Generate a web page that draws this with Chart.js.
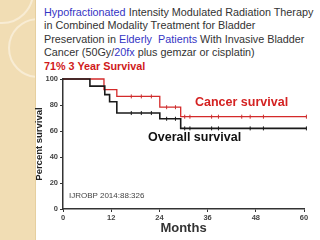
<!DOCTYPE html>
<html>
<head>
<meta charset="utf-8">
<script src="https://cdn.jsdelivr.net/npm/chart.js@4"></script>
<style>
  html, body { margin: 0; padding: 0; }
  body { width: 320px; height: 240px; position: relative; overflow: hidden; background: #fff;
         font-family: "Liberation Sans", Arial, sans-serif; }
  #strip { position: absolute; left: 0; top: 0; width: 35px; height: 240px; background: #f1ddb4;
           border-right: 1px solid #e6cf9f; overflow: hidden; }
  .ring { position: absolute; border-radius: 50%; border: 2px solid #f8ecd4; }
  #title { position: absolute; left: 44px; top: 6px; font-size: 10.8px; line-height: 13.4px; color: #333; white-space: nowrap; }
  .blue { color: #3535c4; }
  .red { color: #d01a1a; font-weight: bold; }
  .note { position: absolute; font-weight: bold; font-size: 12.5px; white-space: nowrap; }
  #chartBox { position: absolute; left: 0; top: 0; width: 320px; height: 240px; }
</style>
</head>
<body>
<div id="strip">
  <div class="ring" style="left:8px; top:18px; width:56px; height:56px;"></div>
  <div class="ring" style="left:-30px; top:-40px; width:60px; height:60px;"></div>
</div>
<div id="title">
  <span class="blue">Hypofractionated</span> Intensity Modulated Radiation Therapy<br>
  in Combined Modality Treatment for Bladder<br>
  Preservation in <span class="blue">Elderly</span>&nbsp; <span class="blue">Patients</span> With Invasive Bladder<br>
  Cancer (50Gy/<span class="blue">20fx</span> plus gemzar or cisplatin)<br>
  <span class="red">71% 3 Year Survival</span>
</div>
<div id="chartBox"><canvas id="kmChart" width="320" height="240"></canvas></div>
<div class="note" style="left:195px; top:95px; color:#d42222;">Cancer survival</div>
<div class="note" style="left:148px; top:130px; color:#111;">Overall survival</div>
<div class="note" style="left:69px; top:191px; font-weight:normal; font-size:8px; color:#444;">IJROBP 2014:88:326</div>
<script>
// Kaplan-Meier steps (months, percent surviving)
const overallMonths = [0, 6.7, 10.4, 11.6, 13.4, 24.1, 29.3, 60.6];
const overallSurvival = [100, 94.5, 88, 82.5, 73.8, 69.4, 62, 62];
const cancerMonths = [0, 10.2, 13.4, 24.1, 29.3, 60.6];
const cancerSurvival = [100, 91.8, 86.6, 78.3, 71, 71];

// censored observations (tick marks)
const overallCensored = [17, 19.5, 22, 25.8, 28, 30.3, 31.6, 37, 38.7, 46.6, 49.9, 60.6];
const cancerCensored = [17, 19.5, 22, 25.8, 28, 30.3, 31.6, 37, 38.7, 44.5, 46.6, 49.9, 60.6];

const monthTicks = [0, 12, 24, 36, 48, 60];
const percentTicks = [0, 20, 40, 60, 80, 100];

function survivalAt(months, surv, t) {
  let v = surv[0];
  for (let i = 0; i < months.length; i++) {
    if (months[i] <= t) v = surv[i];
  }
  return v;
}

function toPoints(xs, ys) {
  return xs.map((x, i) => ({ x: x, y: ys[i] }));
}

function censorPoints(times, months, surv) {
  return times.map((t) => ({ x: t, y: survivalAt(months, surv, t) }));
}

const tickFont = { family: "Liberation Sans", size: 7.5, weight: "bold" };

new Chart(document.getElementById("kmChart"), {
  type: "line",
  data: {
    datasets: [
      {
        data: toPoints(overallMonths, overallSurvival),
        borderColor: "#1a1a1a",
        borderWidth: 1.6,
        stepped: true,
        pointRadius: 0,
        clip: false,
        order: 1,
      },
      {
        data: censorPoints(overallCensored, overallMonths, overallSurvival),
        showLine: false,
        pointStyle: "line",
        rotation: 90,
        pointRadius: 2,
        borderColor: "#1a1a1a",
        borderWidth: 1,
        clip: false,
        order: 0,
      },
      {
        data: toPoints(cancerMonths, cancerSurvival),
        borderColor: "#d42a2a",
        borderWidth: 1.3,
        stepped: true,
        pointRadius: 0,
        clip: false,
        order: 3,
      },
      {
        data: censorPoints(cancerCensored, cancerMonths, cancerSurvival),
        showLine: false,
        pointStyle: "line",
        rotation: 90,
        pointRadius: 2,
        borderColor: "#c83030",
        borderWidth: 1,
        clip: false,
        order: 2,
      },
    ],
  },
  options: {
    responsive: false,
    animation: false,
    layout: { padding: { top: 79, right: 16, left: 0, bottom: 0 } },
    plugins: { legend: { display: false }, tooltip: { enabled: false } },
    scales: {
      x: {
        type: "linear",
        min: 0,
        max: 60,
        afterBuildTicks: (scale) => { scale.ticks = monthTicks.map((v) => ({ value: v })); },
        afterFit: (scale) => { scale.height = 31; },
        grid: { drawOnChartArea: false, tickLength: 3, color: "#333" },
        border: { color: "#333", width: 1.5 },
        ticks: { font: tickFont, color: "#444", padding: 1, maxRotation: 0 },
        title: { display: true, text: "Months", color: "#333", padding: { top: 0, bottom: 4 },
                 font: { family: "Liberation Sans", size: 13, weight: "bold" } },
      },
      y: {
        min: 0,
        max: 100,
        afterBuildTicks: (scale) => { scale.ticks = percentTicks.map((v) => ({ value: v })); },
        afterFit: (scale) => { scale.width = 63; },
        grid: { drawOnChartArea: false, tickLength: 3, color: "#333" },
        border: { color: "#333", width: 1.5 },
        ticks: { font: tickFont, color: "#444", padding: 2 },
        title: { display: true, text: "Percent survival", color: "#222", padding: { top: 34, bottom: 0 },
                 font: { family: "Liberation Sans", size: 9.5, weight: "bold" } },
      },
    },
  },
});
</script>
</body>
</html>
